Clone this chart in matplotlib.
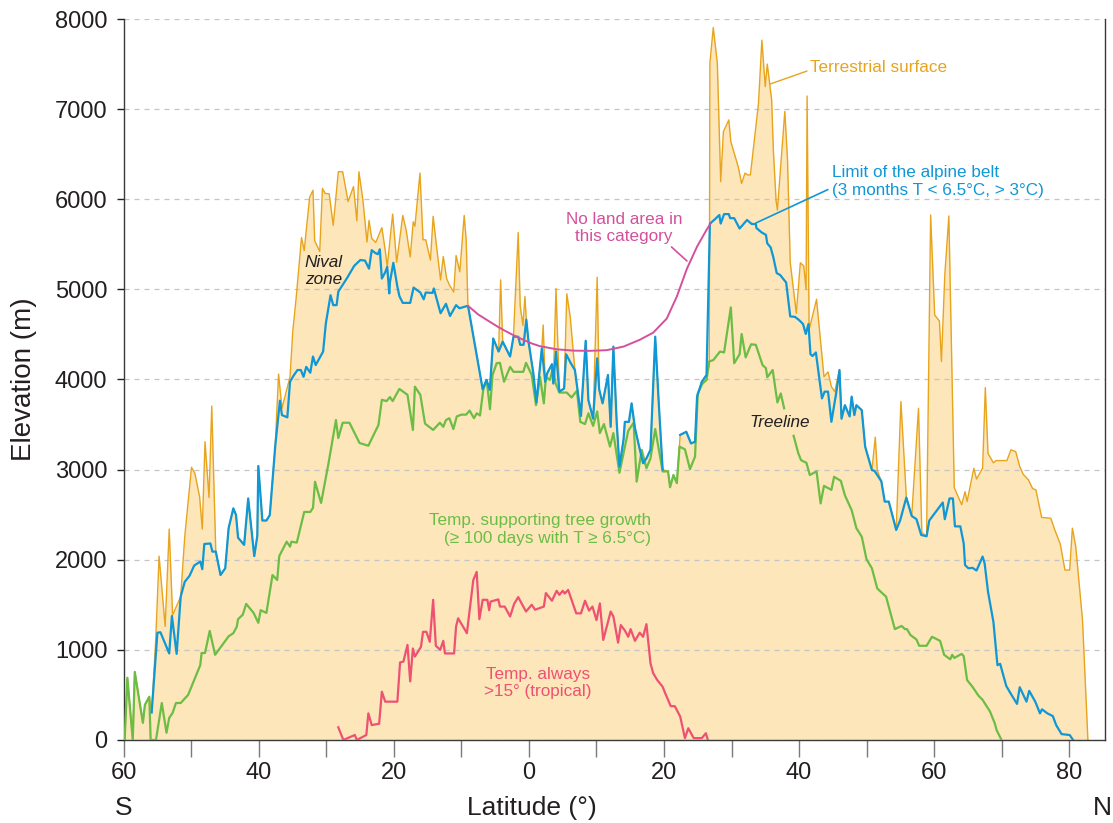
import matplotlib
matplotlib.use("Agg")
import matplotlib.pyplot as plt
import numpy as np
from matplotlib.ticker import FixedLocator, FuncFormatter

plt.rcParams.update({
    "font.family": ["Liberation Sans", "DejaVu Sans"],
    "axes.linewidth": 1.0,
})

# colours
FILL = "#FCE6BA"
ORANGE = "#E8A41C"
BLUE = "#1097D6"
GREEN = "#6CBD45"
RED = "#EE5172"
MAGENTA = "#D4509C"
DARK = "#231F20"
ANNOT_SIZE = 12.3

# latitude: negative = south, positive = north
TERR_LAT = [-59.9, -59.5, -58.7, -58.4, -57.2, -56.9, -56.25, -55.9, -55.3, -54.8, -53.9, -53.3, -52.8,
            -51.6, -51.0, -50.5, -50.0, -49.5, -48.8, -48.4, -48.0, -47.4, -47.0, -46.4, -45.7, -45.0,
            -44.5, -43.8, -43.4, -43.1, -42.2, -41.6, -40.7, -40.25, -40.1, -39.5, -38.9, -38.4, -37.6,
            -37.1, -36.6, -35.9, -35.4, -35.0, -34.5, -33.7, -33.3, -32.5, -32.0, -31.75, -31.0, -30.6,
            -30.2, -29.6, -29.0, -28.25, -27.6, -26.8, -26.0, -25.5, -25.2, -24.6, -24.0, -23.7, -23.3,
            -22.7, -21.8, -21.3, -21.0, -20.2, -19.6, -18.7, -18.2, -17.6, -17.15, -16.9, -16.15, -15.7,
            -15.3, -14.6, -14.2, -13.7, -13.1, -12.7, -12.2, -11.8, -11.15, -10.8, -10.25, -9.6, -9.3,
            -9.05, -6.86, -6.3, -5.8, -5.3, -4.5, -4.2, -3.9, -2.8, -2.3, -1.6, -1.3, -0.9, -0.6, -0.4,
            -0.07, 0.64, 1.1, 1.9, 2.1, 2.4, 2.7, 3.4, 3.6, 4.0, 4.5, 5.2, 5.6, 6.1, 6.8, 7.7, 8.4, 8.8,
            9.5, 10.1, 10.4, 10.9, 11.7, 12.1, 12.5, 13.0, 13.4, 14.0, 14.2, 14.8, 15.2, 15.7, 16.3, 16.9,
            17.4, 18.0, 18.7, 19.2, 19.8, 20.6, 20.9, 21.4, 21.9, 22.4, 23.3, 24.0, 24.6, 24.9, 25.6,
            26.3, 26.7, 26.8, 27.3, 27.9, 28.4, 28.8, 29.6, 29.9, 31.0, 31.5, 32.0, 32.4, 32.8, 34.0,
            34.5, 35.0, 35.3, 35.95, 36.2, 36.6, 36.8, 37.4, 37.9, 38.3, 38.7, 39.6, 40.2, 40.7, 41.05,
            41.2, 41.5, 42.6, 43.7, 44.3, 44.8, 45.3, 46.0, 46.3, 46.8, 47.5, 47.8, 48.2, 48.5, 49.3,
            49.8, 50.8, 51.3, 51.6, 52.2, 52.7, 53.3, 54.4, 55.1, 55.9, 56.7, 57.7, 58.2, 58.9, 59.5,
            60.1, 60.8, 61.1, 61.6, 62.2, 63.0, 64.1, 64.6, 64.9, 65.9, 66.3, 67.2, 67.6, 68.0, 68.8,
            69.2, 70.8, 71.4, 72.1, 72.7, 73.2, 74.0, 74.6, 75.1, 75.95, 77.3, 77.9, 78.7, 79.4, 80.1,
            80.5, 81.0, 82.0, 82.8]
TERR_ELEV = [0, 690, 0, 755, 190, 390, 480, 305, 1110, 2040, 1260, 2340, 1385,
             1590, 2255, 2645, 3025, 2960, 2700, 2340, 3310, 2690, 3705, 2090, 1830, 1905,
             2350, 2570, 2495, 2245, 2165, 2680, 2040, 2265, 3040, 2435, 2435, 2495, 3255,
             4060, 3680, 3885, 4030, 4530, 4900, 5575, 5430, 6020, 6100, 5540, 5420, 6120,
             6065, 6060, 5710, 6305, 6305, 5975, 6140, 5760, 6305, 5990, 5525, 5765, 5565,
             5520, 5685, 5435, 5250, 5835, 5300, 5820, 5660, 5360, 5750, 5700, 6290, 5550,
             5550, 5325, 5810, 5480, 5105, 5365, 5120, 5050, 4970, 5375, 5195, 5820, 5545,
             4815, 3890, 3995, 3885, 4455, 4310, 5105, 4420, 4255, 4475, 5630, 4815, 4600, 4920, 4665,
             4420, 4070, 3745, 4345, 4605, 3975, 4070, 4170, 3955, 5010, 3865, 3900, 4950, 4700, 4105, 3595, 4430, 3770,
             3565, 5135, 3890, 3735, 4050, 3475, 4365, 3515, 3035, 3330, 3530, 3530, 3735, 3460, 3260, 3070,
             3125, 3220, 4475, 3770, 3000, 2980, 2805, 2940, 2850, 3385, 3420, 3290, 3310, 3810, 3975,
             4050, 4150, 7510, 7905, 7510, 6195, 6750, 6880, 6640, 6360, 6175, 6290, 6270, 6270, 7065,
             7765, 7250, 7500, 7100, 6545, 5990, 5880, 6470, 6975, 6435, 5300, 4735, 5295, 5260, 5000,
             7145, 4550, 4890, 4030, 4085, 3920, 3865, 4105, 3565, 3715, 3590, 3810, 3605, 3715, 3660,
             3255, 2995, 3360, 2990, 2870, 2645, 2645, 2330, 3755, 2690, 2485, 3680, 2300, 2260, 5825,
             4715, 4650, 4200, 5160, 5815, 2800, 2610, 2755, 2645, 3015, 2895, 3015, 3910, 3180, 3075,
             3100, 3100, 3220, 3200, 3035, 2950, 2885, 2790, 2775, 2470, 2460, 2330, 2175, 1885, 1885,
             2350, 2145, 1330, 0]

ALPINE_LAT = [-55.9, -55.05, -54.6, -53.9, -53.3, -52.9, -52.2, -51.6, -51.0, -50.3, -49.6, -48.7, -48.4,
              -48.1, -47.2, -46.9, -46.4, -45.7, -45.0, -44.5, -43.8, -43.4, -43.1, -42.2, -41.6, -40.7,
              -40.25, -40.1, -39.5, -38.9, -38.4, -37.6, -36.9, -36.6, -35.8, -35.4, -34.9, -34.3, -33.8,
              -33.4, -33.0, -32.4, -32.0, -31.6, -30.5, -30.1, -29.4, -29.0, -28.5, -28.25, -27.0, -25.9,
              -25.0, -24.3, -23.7, -23.3, -22.8, -22.4, -22.1, -21.8, -21.3, -21.0, -20.7, -20.6, -20.1,
              -19.5, -19.2, -18.7, -17.6, -17.1, -16.1, -15.6, -15.3, -14.3, -14.1, -13.1, -12.3, -11.7,
              -10.8, -10.3, -9.2, -9.0, -6.86, -6.3, -5.8, -5.3, -4.5, -3.9, -2.8, -2.3, -1.6, -1.3, -0.8,
              -0.4, -0.07, 0.64, 1.1, 1.9, 2.4, 2.7, 3.4, 3.6, 4.0, 4.5, 5.2, 5.5, 6.2, 6.8, 7.7, 8.4, 8.8,
              9.5, 10.1, 10.4, 10.9, 11.7, 12.1, 12.5, 13.0, 13.4, 14.0, 14.2, 14.8, 15.2, 15.7, 16.3,
              16.9, 17.4, 18.0, 18.7, 19.2, 19.8, 21.0, 22.4, 23.3, 24.0, 24.6, 24.9, 25.6, 26.3, 26.8,
              27.5, 28.2, 28.4, 28.9, 29.6, 29.8, 30.4, 31.2, 32.3, 33.0, 33.6, 33.7, 34.5, 35.1, 35.3,
              35.8, 36.2, 36.7, 37.2, 38.1, 38.7, 39.4, 40.0, 40.6, 41.0, 41.4, 41.7, 42.0, 42.5, 43.4,
              43.8, 44.3, 44.8, 45.5, 46.0, 46.3, 46.8, 47.5, 47.8, 48.2, 48.5, 49.3, 49.8, 50.8, 51.2,
              52.2, 52.7, 53.3, 54.4, 55.0, 55.9, 56.7, 57.4, 58.1, 58.9, 59.3, 61.3, 61.6, 62.3, 62.8,
              63.1, 63.9, 64.4, 64.6, 65.1, 65.7, 66.3, 67.2, 67.5, 68.0, 68.8, 69.4, 69.8, 70.7, 71.4,
              72.3, 72.7, 73.7, 74.1, 75.0, 75.7, 76.0, 76.8, 77.6, 78.1, 78.9, 80.1, 80.6]
# NaN = no alpine limit drawn (gap between 20 and 22 N)
ALPINE_ELEV = [305, 1190, 1195, 1070, 960, 1375, 955, 1590, 1755, 1820, 1935, 1980, 1895,
               2175, 2180, 2090, 2090, 1830, 1905, 2350, 2570, 2495, 2245, 2165, 2680, 2040,
               2265, 3040, 2435, 2435, 2495, 3255, 3765, 3605, 3580, 3975, 4040, 4105, 4105,
               4030, 4140, 4075, 4255, 4160, 4310, 4620, 4935, 4825, 4825, 4975, 5120, 5260,
               5325, 5320, 5230, 5435, 5405, 5390, 5445, 5120, 5190, 5250, 4955, 5080, 5295,
               5030, 4925, 4850, 4850, 5020, 4965, 4890, 4965, 4960, 5010, 4735, 4840, 4705,
               4825, 4790, 4815, 4805, 3890, 3995, 3885, 4455, 4310, 4420, 4255, 4475, 4475, 4385, 4385,
               4665, 4420, 4070, 3745, 4345, 3975, 4070, 4170, 3955, 4310, 3865, 3900, 4280, 4180, 4105, 3595, 4430, 3770,
               3565, 4235, 3890, 3735, 4050, 3475, 4365, 3515, 3035, 3330, 3530, 3530, 3735, 3460, 3260,
               3070, 3125, 3220, 4475, 3770, 3000, np.nan, 3385, 3420, 3290, 3310, 3810, 3975, 4050, 5730,
               5775, 5825, 5730, 5835, 5835, 5790, 5790, 5675, 5770, 5725, 5725, 5680, 5630, 5605, 5510,
               5465, 5355, 5180, 5160, 5075, 4700, 4695, 4660, 4615, 4505, 4615, 4280, 4260, 4300, 3790,
               3865, 3865, 3530, 3845, 4105, 3565, 3715, 3590, 3810, 3605, 3715, 3660, 3255, 2995, 2985,
               2870, 2645, 2645, 2330, 2440, 2690, 2485, 2450, 2275, 2260, 2435, 2635, 2450, 2680, 2680,
               2370, 2370, 2180, 1940, 1905, 1910, 1880, 2035, 1960, 1645, 1310, 830, 845, 600, 510,
               400, 585, 425, 545, 425, 295, 340, 295, 265, 165, 65, 55, 0]

TREE_LAT = [-59.9, -59.5, -58.7, -58.4, -57.2, -56.9, -56.25, -56.05, -55.26, -54.4, -53.7, -53.3, -52.8,
            -52.3, -51.6, -50.5, -48.7, -48.5, -48.0, -47.3, -46.5, -44.5, -43.8, -43.3, -43.1, -42.4,
            -41.9, -40.8, -40.1, -39.75, -38.9, -38.0, -37.3, -37.0, -35.9, -35.4, -35.2, -34.4, -33.3,
            -32.4, -32.0, -31.7, -30.8, -29.7, -28.6, -28.25, -27.6, -26.6, -25.1, -23.8, -22.3, -21.8,
            -21.1, -20.6, -20.2, -19.2, -18.0, -17.2, -16.9, -16.1, -15.4, -14.2, -13.2, -12.7, -12.3,
            -11.8, -11.2, -10.7, -10.0, -9.3, -8.8, -8.15, -7.75, -7.26, -6.77, -6.27, -5.78, -5.4,
            -4.79, -4.3, -3.7, -2.8, -2.3, -0.84, -0.44, 0.4, 1.04, 1.63, 2.2, 2.5, 3.1, 3.6, 3.9, 4.5,
            5.6, 6.3, 7.1, 7.6, 8.3, 8.8, 9.5, 10.1, 10.5, 11.1, 12.0, 12.5, 13.4, 14.0, 14.7, 15.5,
            15.95, 16.7, 17.4, 18.0, 18.7, 19.8, 20.6, 20.9, 21.4, 21.9, 22.3, 23.1, 23.85, 24.6, 25.0,
            25.7, 26.3, 26.7, 27.3, 28.3, 28.9, 29.9, 30.4, 31.2, 31.5, 32.1, 32.9, 33.6, 34.6, 35.1,
            35.3, 36.1, 36.8, 37.3, 37.8, 38.5, 39.2, 39.9, 40.3, 41.1, 41.6, 42.6, 43.2, 43.7, 44.8,
            45.2, 46.2, 46.8, 47.8, 48.5, 49.3, 50.0, 50.8, 51.6, 52.9, 53.3, 54.2, 55.2, 55.7, 56.0,
            56.5, 57.4, 57.8, 58.9, 59.7, 60.9, 61.5, 62.4, 62.7, 63.0, 64.1, 64.4, 64.9, 65.7, 66.6,
            67.2, 68.3, 69.0, 69.3, 70.0]
# NaN = break in the line where the "Treeline" label sits
TREE_ELEV = [0, 690, 0, 755, 190, 390, 480, 0, 0, 410, 80, 245, 300,
             410, 410, 500, 830, 965, 965, 1210, 945, 1150, 1185, 1255, 1340, 1390,
             1510, 1410, 1300, 1440, 1410, 1830, 1775, 2040, 2200, 2145, 2200, 2190, 2530,
             2530, 2575, 2865, 2630, 3070, 3550, 3350, 3520, 3520, 3295, 3265, 3495, 3775,
             3760, 3805, 3760, 3895, 3830, 3440, 3920, 3830, 3510, 3440, 3520, 3475, 3550,
             3570, 3450, 3590, 3610, 3610, 3655, 3570, 3625, 3600, 3890, 3995, 3670, 4050,
             4180, 4185, 3975, 4140, 4085, 4085, 4185, 4050, 3715, 4030, 3735, 4030, 3995, 4140, 3965, 3855,
             3855, 3800, 3875, 3530, 3505, 3625, 3485, 3645, 3405, 3505, 3255, 3405, 2965, 3180, 3430, 3520,
             2866, 3218, 3015, 3125, 3450, 2980, 2980, 2805, 2940, 2850, 3255, 3225, 3005, 3145, 3845,
             3955, 3995, 4200, 4215, 4310, 4300, 4800, 4180, 4280, 4505, 4245, 4390, 4385, 4160, 4125,
             4025, 4105, 3745, 3845, 3680, np.nan, 3375, 3180, 3105, 3075, 2940, 2980, 2625, 2820, 2775,
             2920, 2875, 2715, 2550, 2350, 2255, 2005, 1905, 1680, 1590, 1480, 1230, 1265, 1230, 1230,
             1165, 1115, 1045, 1045, 1145, 1100, 945, 895, 945, 910, 955, 930, 665, 590, 490,
             445, 315, 185, 105, 0]

TROP_LAT = [-28.25, -27.5, -25.8, -25.5, -24.1, -23.8, -23.3, -22.2, -21.8, -21.3, -19.5, -19.1, -18.6,
            -18.0, -17.6, -17.2, -16.9, -16.0, -15.7, -15.2, -14.7, -14.2, -13.8, -13.15, -12.7, -12.45,
            -11.1, -10.8, -10.5, -9.2, -8.25, -7.75, -7.35, -6.86, -6.17, -5.9, -5.7, -4.54, -4.3, -3.6,
            -2.8, -2.2, -1.6, -0.44, 0.4, 0.9, 2.2, 2.5, 3.4, 4.1, 4.5, 5.0, 5.3, 5.8, 7.0, 7.7, 8.3,
            8.9, 9.4, 10.0, 10.5, 11.0, 12.1, 12.5, 13.2, 13.6, 14.2, 14.7, 15.05, 15.7, 16.4, 16.9,
            17.4, 18.0, 18.4, 19.0, 19.8, 20.2, 21.0, 21.6, 22.4, 23.1, 23.6, 24.4, 25.6, 26.2, 26.5]
TROP_ELEV = [140, 0, 55, 0, 55, 295, 165, 180, 535, 425, 425, 860, 870,
             1055, 650, 1015, 925, 1035, 1200, 1200, 1090, 1555, 1045, 1000, 1100, 960,
             960, 1260, 1350, 1185, 1775, 1865, 1340, 1555, 1555, 1440, 1535, 1560, 1480, 1480,
             1370, 1510, 1585, 1425, 1500, 1445, 1480, 1630, 1545, 1655, 1610, 1655, 1625, 1665, 1405, 1405, 1545,
             1435, 1480, 1330, 1515, 1110, 1425, 1370, 1080, 1275, 1215, 1145, 1230, 1100, 1190, 1145,
             1285, 850, 740, 665, 590, 515, 375, 375, 260, 20, 130, 20, 20, 75, 0]

NOLAND_LAT = [-9.0, -7.5, -5.8, -4.5, -3.3, -2.0, -0.84, 0.4, 1.6, 4.1, 6.6, 9.0, 11.5, 14.0,
              16.4, 18.4, 20.4, 21.9, 23.4, 24.9, 26.3, 26.9]
NOLAND_ELEV = [4815, 4720, 4640, 4580, 4530, 4480, 4440, 4400, 4370, 4335, 4320, 4318, 4325, 4365,
               4440, 4520, 4675, 4920, 5230, 5475, 5660, 5730]

Y_TICKS = [0, 1000, 2000, 3000, 4000, 5000, 6000, 7000, 8000]
X_MAJOR = [-60, -40, -20, 0, 20, 40, 60, 80]
X_MINOR = [-50, -30, -10, 10, 30, 50, 70]


fig = plt.figure(figsize=(11.13, 8.23), dpi=100)
ax = fig.add_axes([0.1114, 0.1009, 0.8814, 0.876])

# beige land area under every profile
ax.fill_between(TERR_LAT, TERR_ELEV, 0, color=FILL, linewidth=0, zorder=1)
ax.fill_between(TREE_LAT, np.nan_to_num(TREE_ELEV), 0, color=FILL, linewidth=0, zorder=1)

ax.plot(TERR_LAT, TERR_ELEV, color=ORANGE, lw=1.0, zorder=2)
ax.plot(TREE_LAT, TREE_ELEV, color=GREEN, lw=1.6, zorder=3)
ax.plot(TROP_LAT, TROP_ELEV, color=RED, lw=1.6, zorder=3)
ax.plot(ALPINE_LAT, ALPINE_ELEV, color=BLUE, lw=1.6, zorder=4)
ax.plot(NOLAND_LAT, NOLAND_ELEV, color=MAGENTA, lw=1.4, zorder=4)

ax.set_xlim(-60, 85.33)
ax.set_ylim(0, 8000)

ax.yaxis.set_major_locator(FixedLocator(Y_TICKS))
ax.xaxis.set_major_locator(FixedLocator(X_MAJOR))
ax.xaxis.set_minor_locator(FixedLocator(X_MINOR))
ax.xaxis.set_major_formatter(FuncFormatter(lambda v, p: f"{abs(v):.0f}"))
ax.tick_params(axis="y", direction="out", length=5, width=1.0, color=DARK,
               labelsize=17, pad=7, labelcolor=DARK)
ax.tick_params(axis="x", which="both", direction="out", length=12, width=1.0,
               color="#7a7a7a", labelsize=17, pad=4, labelcolor=DARK)

ax.set_axisbelow("line")
ax.grid(axis="y", linestyle=(0, (4, 4)), color="#c4c4c4", linewidth=0.9)
ax.spines["top"].set_visible(False)
for s in ("left", "bottom", "right"):
    ax.spines[s].set_color("#3a3a3a")

ax.set_ylabel("Elevation (m)", fontsize=20, color=DARK, labelpad=13)
xt = ax.get_xaxis_transform()
ax.text(0.4, -0.094, "Latitude (°)", transform=xt, ha="center", va="center",
        fontsize=19, color=DARK)
ax.text(-60, -0.094, "S", transform=xt, ha="center", va="center",
        fontsize=19, color=DARK)
ax.text(85.0, -0.094, "N", transform=xt, ha="center", va="center",
        fontsize=19, color=DARK)

# annotations
ax.annotate("Terrestrial surface", xy=(35.7, 7278), xytext=(41.6, 7467),
            color=ORANGE, fontsize=ANNOT_SIZE, va="center", ha="left",
            arrowprops=dict(arrowstyle="-", color=ORANGE, lw=1.0, shrinkA=0, shrinkB=0,
                            relpos=(0, 0.3)))
ax.annotate("Limit of the alpine belt\n(3 months T < 6.5°C, > 3°C)", xy=(33.6, 5736),
            xytext=(44.9, 6197), color=BLUE, fontsize=ANNOT_SIZE, va="center", ha="left",
            linespacing=1.2,
            arrowprops=dict(arrowstyle="-", color=BLUE, lw=1.2, shrinkA=0, shrinkB=0,
                            relpos=(-0.02, 0.25)))
ax.annotate("No land area in\nthis category", xy=(23.4, 5315), xytext=(14.1, 5681),
            color=MAGENTA, fontsize=ANNOT_SIZE, va="center", ha="center", linespacing=1.2,
            arrowprops=dict(arrowstyle="-", color=MAGENTA, lw=1.2, shrinkA=0, shrinkB=0,
                            relpos=(0.88, 0.0)))
ax.text(-33.2, 5204, "Nival\nzone", style="italic", color=DARK, fontsize=ANNOT_SIZE,
        va="center", ha="left", linespacing=1.2)
ax.text(32.7, 3528, "Treeline", style="italic", color=DARK, fontsize=ANNOT_SIZE,
        va="center", ha="left")
ax.text(18.07, 2336, "Temp. supporting tree growth\n(≥ 100 days with T ≥ 6.5°C)",
        color=GREEN, fontsize=ANNOT_SIZE, va="center", ha="right", multialignment="right",
        linespacing=1.2)
ax.text(1.33, 632, "Temp. always\n>15° (tropical)", color=RED, fontsize=ANNOT_SIZE,
        va="center", ha="center", linespacing=1.2)

fig.savefig("out.png", dpi=100)
